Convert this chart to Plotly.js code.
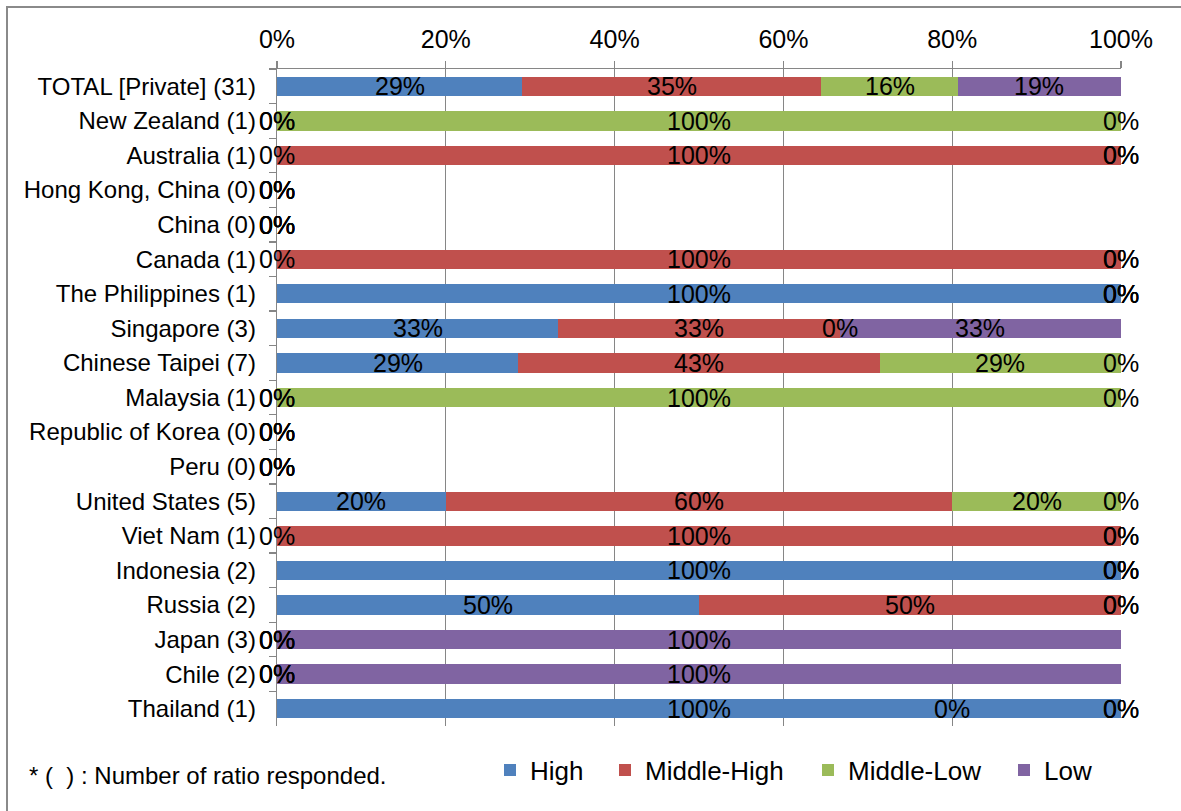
<!DOCTYPE html>
<html>
<head>
<meta charset="utf-8">
<script src="https://cdn.plot.ly/plotly-3.0.1.min.js"></script>
<style>
  html, body { margin: 0; padding: 0; width: 1181px; height: 811px; overflow: hidden; background: #ffffff; }
  #frame { position: absolute; left: 6px; top: 6px; width: 1400px; height: 1000px; border: 2px solid #8a8a8a; }
  #chart { position: absolute; left: 0; top: 0; width: 1181px; height: 811px; }
</style>
</head>
<body>
<div id="frame"></div>
<div id="chart"></div>
<script>
const categories = ['TOTAL [Private] (31)', 'New Zealand (1)', 'Australia (1)', 'Hong Kong, China (0)', 'China (0)',
  'Canada (1)', 'The Philippines (1)', 'Singapore (3)', 'Chinese Taipei (7)', 'Malaysia (1)',
  'Republic of Korea (0)', 'Peru (0)', 'United States (5)', 'Viet Nam (1)', 'Indonesia (2)',
  'Russia (2)', 'Japan (3)', 'Chile (2)', 'Thailand (1)'];

const seriesNames = ['High', 'Middle-High', 'Middle-Low', 'Low'];
const high    = [29.03, 0, 0, 0, 0, 0, 100, 33.33, 28.57, 0, 0, 0, 20, 0, 100, 50, 0, 0, 100];
const midHigh = [35.48, 0, 100, 0, 0, 100, 0, 33.33, 42.86, 0, 0, 0, 60, 100, 0, 50, 0, 0, 0];
const midLow  = [16.13, 100, 0, 0, 0, 0, 0, 0, 28.57, 100, 0, 0, 20, 0, 0, 0, 0, 0, 0];
const low     = [19.35, 0, 0, 0, 0, 0, 0, 33.33, 0, 0, 0, 0, 0, 0, 0, 0, 100, 100, 0];

const xTickVals = [0, 20, 40, 60, 80, 100];
const xTickText = ['0%', '20%', '40%', '60%', '80%', '100%'];
const footnote = '* (\u00a0\u00a0) : Number of ratio responded.';

// one data label in the source was dragged away from its segment
const movedLabels = [{ category: 'Thailand (1)', series: 3, x: 80 }];

const colors = ['#4F81BD', '#C0504D', '#9BBB59', '#8064A2'];
const allSeries = [high, midHigh, midLow, low];
const FONT = '"Liberation Sans", Arial, sans-serif';

const legendIds = ['legend', 'legend2', 'legend3', 'legend4'];
const traces = allSeries.map((vals, i) => ({
  type: 'bar',
  orientation: 'h',
  name: seriesNames[i],
  y: categories,
  x: vals,
  marker: { color: colors[i], line: { width: 0 } },
  legend: legendIds[i],
  hoverinfo: 'x+y+name'
}));

// data labels at the centre of each segment
const annotations = [];
categories.forEach((cat, ci) => {
  let cum = 0;
  allSeries.forEach((vals, si) => {
    const v = vals[ci];
    let xc = cum + v / 2;
    const mv = movedLabels.find(m => m.category === cat && m.series === si);
    if (mv) xc = mv.x;
    annotations.push({
      x: xc, y: cat, xref: 'x', yref: 'y',
      text: Math.round(v) + '%',
      showarrow: false,
      xanchor: 'center', yanchor: 'middle',
      font: { family: FONT, size: 25, color: '#000000' }
    });
    cum += v;
  });
});

annotations.push({
  xref: 'paper', yref: 'paper',
  x: (27 - 277) / 844, y: (726 - 775) / 657,
  xanchor: 'left', yanchor: 'middle',
  text: footnote, showarrow: false,
  font: { family: FONT, size: 24, color: '#000000' }
});

const legendX = [490, 605, 808, 1004];
const layout = {
  width: 1181, height: 811,
  margin: { l: 277, r: 60, t: 69, b: 85 },
  paper_bgcolor: 'rgba(0,0,0,0)',
  plot_bgcolor: 'rgba(0,0,0,0)',
  barmode: 'stack',
  bargap: 0.44,
  font: { family: FONT, size: 24, color: '#000000' },
  xaxis: {
    side: 'top',
    range: [0, 100],
    tickvals: xTickVals,
    ticktext: xTickText,
    showgrid: true, gridcolor: '#868686', gridwidth: 1.3,
    showline: true, linecolor: '#868686', linewidth: 1.3,
    ticks: 'outside', ticklen: 7, tickcolor: '#868686', tickwidth: 1.3,
    ticklabelstandoff: 3,
    zeroline: false,
    tickfont: { family: FONT, size: 25, color: '#000000' },
    fixedrange: true
  },
  yaxis: {
    type: 'category',
    autorange: 'reversed',
    showline: true, linecolor: '#868686', linewidth: 1.3,
    ticks: 'outside', ticklen: 7, tickcolor: '#868686', tickwidth: 1.3,
    tickson: 'boundaries',
    ticklabelstandoff: 15,
    showgrid: false,
    tickfont: { family: FONT, size: 24, color: '#000000' },
    fixedrange: true
  },
  annotations: annotations,
  showlegend: true
};
legendIds.forEach((id, i) => {
  layout[id] = {
    orientation: 'h',
    x: (legendX[i] - 277) / 844, xanchor: 'left',
    y: (726 - 770) / 657, yanchor: 'middle',
    xref: 'paper', yref: 'paper',
    bgcolor: 'rgba(0,0,0,0)',
    font: { family: FONT, size: 26, color: '#000000' }
  };
});

Plotly.newPlot('chart', traces, layout, { displayModeBar: false, staticPlot: true });
</script>
</body>
</html>
